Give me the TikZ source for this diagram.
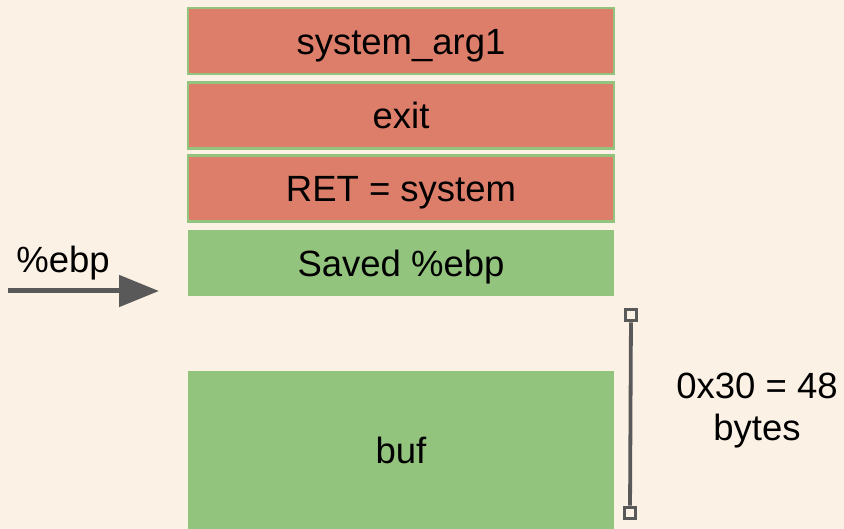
\documentclass[tikz,border=0pt]{standalone}
\usepackage{fontspec}
\setmainfont{Liberation Sans}
\usetikzlibrary{arrows.meta}
\definecolor{bgcream}{HTML}{FCF1E5}
\definecolor{slotred}{HTML}{DD7E6B}
\definecolor{slotgreen}{HTML}{93C47D}
\definecolor{inkgray}{HTML}{595959}
\tikzset{
  slot/.style={minimum width=426pt, minimum height=66pt, inner sep=0pt, outer sep=0pt,
    text height=27pt, text depth=0pt,
    font=\fontsize{36.5}{42}\selectfont},
  redslot/.style={slot, fill=slotred, draw=slotgreen, line width=2.2pt},
  greenslot/.style={slot, fill=slotgreen},
  label/.style={font=\fontsize{36.5}{42}\selectfont, inner sep=0pt},
  endbox/.style={draw=inkgray, fill=bgcream, line width=3.2pt, minimum size=11.5pt, inner sep=0pt},
  pointer/.style={draw=inkgray, line width=5pt, -{Triangle[length=40pt, width=31pt]}},
}
\begin{document}
\begin{tikzpicture}[x=1pt, y=-1pt]
  % canvas
  \fill[bgcream] (0,0) rectangle (844,529);
  \useasboundingbox (0,0) rectangle (844,529);

  % stack slots
  \node[redslot] (arg) at (401,41) {system\_arg1};
  \node[redslot] (exit) at (401,115.5) {exit};
  \node[redslot] (ret) at (401,188.5) {RET = system};
  \node[greenslot] (ebp) at (401,263) {Saved \%ebp};
  \node[greenslot, minimum height=158pt] (buf) at (401,450) {buf};

  % frame pointer
  \node[label] (ebplabel) at (63,263) {\%ebp};
  \coordinate (ptrstart) at (8,291);
  \coordinate (ptrend) at (159,291);
  \draw[pointer] (ptrstart) -- (ptrend);

  % size bracket
  \node[endbox] (top) at (631,315) {};
  \node[endbox] (bot) at (630,513) {};
  \draw[inkgray, line width=3.8pt] (top) -- (bot);
  \node[label, align=center] (size) at (757,410.5) {0x30 = 48\\bytes};
\end{tikzpicture}
\end{document}
